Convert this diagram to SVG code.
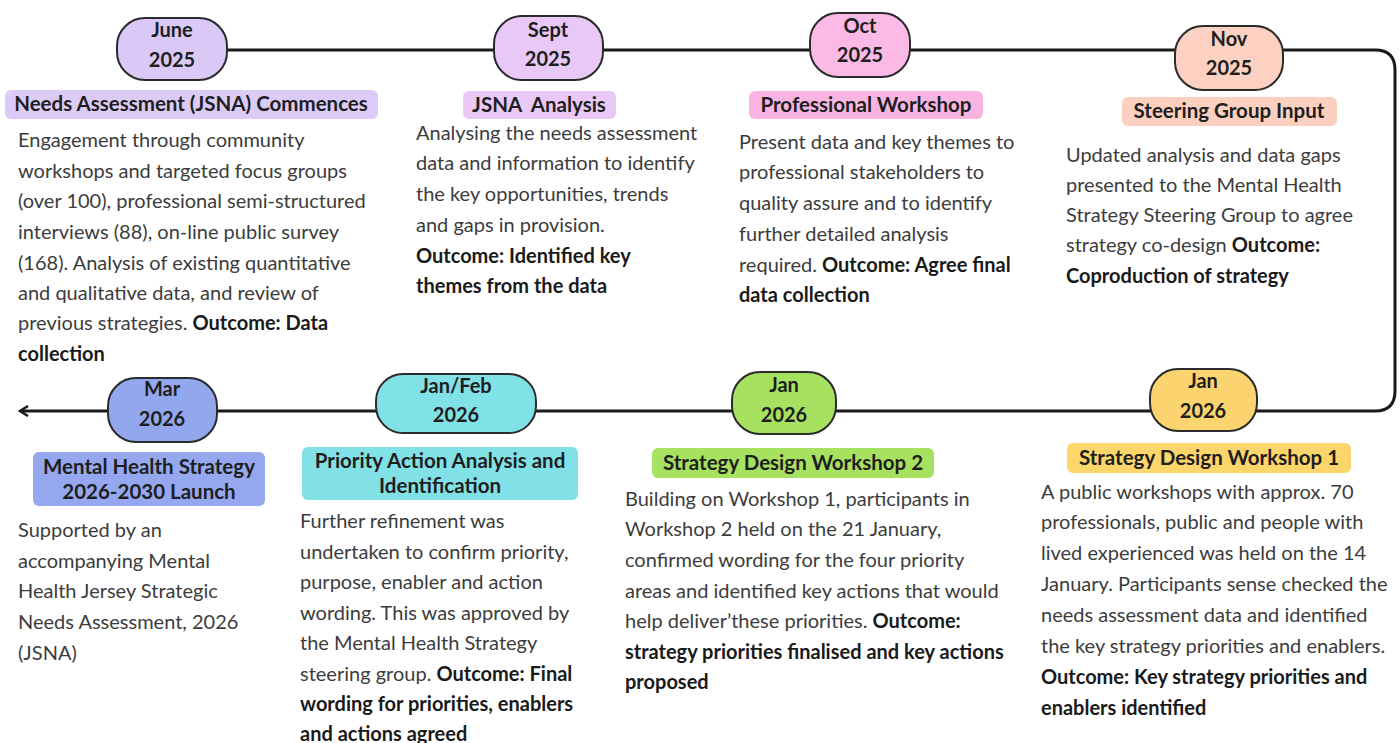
<svg xmlns="http://www.w3.org/2000/svg" width="1400" height="743" viewBox="0 0 1400 743">
<style>
.pill{stroke:#2b2b2b;stroke-width:2}
.pt{font-family:Lato,"Open Sans","Liberation Sans",sans-serif;font-weight:bold;font-size:20px;fill:#1e1e1e;text-anchor:middle}
.lbl{font-family:Lato,"Open Sans","Liberation Sans",sans-serif;font-weight:bold;font-size:20.5px;fill:#1e1e1e;text-anchor:middle}
.body{font-family:Lato,"Open Sans","Liberation Sans",sans-serif;font-size:20px;fill:#3c3c3c}
.b{font-weight:bold;fill:#1a1a1a}
.line{fill:none;stroke:#1a1a1a;stroke-width:3}
</style>
<defs>
<marker id="arr" viewBox="0 0 12 12" refX="10" refY="6" markerWidth="12" markerHeight="12" markerUnits="userSpaceOnUse" orient="auto">
<path d="M2,1 L10,6 L2,11" fill="none" stroke="#1a1a1a" stroke-width="2.5"/>
</marker>
</defs>
<rect width="1400" height="743" fill="#ffffff"/>
<g id="connectors">
<path class="line" d="M 228 50 H 1375 Q 1395 50 1395 70 V 391 Q 1395 411 1375 411 H 20" marker-end="url(#arr)"/>
</g>

<g id="june">
<rect class="pill" x="117" y="18" width="110" height="62" rx="28" fill="#dac9f6"/>
<text class="pt" x="172" y="37">June</text>
<text class="pt" x="172" y="67">2025</text>
<rect x="5" y="90" width="373" height="29" rx="6" fill="#dccbf7"/>
<text class="lbl" x="191" y="111">Needs Assessment (JSNA) Commences</text>
<text class="body">
<tspan x="18" y="147">Engagement through community</tspan>
<tspan x="18" y="178">workshops and targeted focus groups</tspan>
<tspan x="18" y="208">(over 100), professional semi-structured</tspan>
<tspan x="18" y="239">interviews (88), on-line public survey</tspan>
<tspan x="18" y="270">(168). Analysis of existing quantitative</tspan>
<tspan x="18" y="300">and qualitative data, and review of</tspan>
<tspan x="18" y="330">previous strategies. <tspan class="b">Outcome: Data</tspan></tspan>
<tspan x="18" y="361" class="b">collection</tspan>
</text>
</g>

<g id="sept">
<rect class="pill" x="494" y="16" width="109" height="64" rx="28" fill="#e7c8f6"/>
<text class="pt" x="548" y="37">Sept</text>
<text class="pt" x="548" y="66">2025</text>
<rect x="463" y="91" width="153" height="28" rx="6" fill="#eac9f7"/>
<text class="lbl" x="539" y="112" xml:space="preserve">JSNA  Analysis</text>
<text class="body">
<tspan x="416" y="140">Analysing the needs assessment</tspan>
<tspan x="416" y="170">data and information to identify</tspan>
<tspan x="416" y="201">the key opportunities, trends</tspan>
<tspan x="416" y="232">and gaps in provision.</tspan>
<tspan x="416" y="263" class="b">Outcome: Identified key</tspan>
<tspan x="416" y="293" class="b">themes from the data</tspan>
</text>
</g>

<g id="oct">
<rect class="pill" x="810" y="13" width="100" height="64" rx="28" fill="#fbb9e5"/>
<text class="pt" x="860" y="33">Oct</text>
<text class="pt" x="860" y="62">2025</text>
<rect x="749" y="91" width="234" height="28" rx="6" fill="#f9b5e2"/>
<text class="lbl" x="866" y="112">Professional Workshop</text>
<text class="body">
<tspan x="739" y="149">Present data and key themes to</tspan>
<tspan x="739" y="179">professional stakeholders to</tspan>
<tspan x="739" y="210">quality assure and to identify</tspan>
<tspan x="739" y="241">further detailed analysis</tspan>
<tspan x="739" y="272">required. <tspan class="b">Outcome: Agree final</tspan></tspan>
<tspan x="739" y="302" class="b">data collection</tspan>
</text>
</g>

<g id="nov">
<rect class="pill" x="1175" y="26" width="108" height="64" rx="28" fill="#fcd1c1"/>
<text class="pt" x="1229" y="46">Nov</text>
<text class="pt" x="1229" y="75">2025</text>
<rect x="1122" y="97" width="215" height="29" rx="6" fill="#fbd0c0"/>
<text class="lbl" x="1229" y="118">Steering Group Input</text>
<text class="body">
<tspan x="1066" y="162">Updated analysis and data gaps</tspan>
<tspan x="1066" y="192">presented to the Mental Health</tspan>
<tspan x="1066" y="222">Strategy Steering Group to agree</tspan>
<tspan x="1066" y="252">strategy co-design <tspan class="b">Outcome:</tspan></tspan>
<tspan x="1066" y="283" class="b">Coproduction of strategy</tspan>
</text>
</g>

<g id="mar">
<rect class="pill" x="108" y="378" width="109" height="64" rx="28" fill="#93a7ef"/>
<text class="pt" x="162" y="396">Mar</text>
<text class="pt" x="162" y="426">2026</text>
<rect x="33" y="452" width="232" height="54" rx="6" fill="#95a8ef"/>
<text class="lbl" x="149" y="474">Mental Health Strategy</text>
<text class="lbl" x="149" y="499">2026-2030 Launch</text>
<text class="body">
<tspan x="18" y="537">Supported by an</tspan>
<tspan x="18" y="568">accompanying Mental</tspan>
<tspan x="18" y="598">Health Jersey Strategic</tspan>
<tspan x="18" y="629">Needs Assessment, 2026</tspan>
<tspan x="18" y="660">(JSNA)</tspan>
</text>
</g>

<g id="janfeb">
<rect class="pill" x="376" y="374" width="160" height="59" rx="27" fill="#80e1e7"/>
<text class="pt" x="456" y="393">Jan/Feb</text>
<text class="pt" x="456" y="422">2026</text>
<rect x="302" y="447" width="276" height="53" rx="6" fill="#82e1e7"/>
<text class="lbl" x="440" y="468">Priority Action Analysis and</text>
<text class="lbl" x="440" y="493">Identification</text>
<text class="body">
<tspan x="300" y="528">Further refinement was</tspan>
<tspan x="300" y="559">undertaken to confirm priority,</tspan>
<tspan x="300" y="589">purpose, enabler and action</tspan>
<tspan x="300" y="620">wording. This was approved by</tspan>
<tspan x="300" y="650">the Mental Health Strategy</tspan>
<tspan x="300" y="681">steering group. <tspan class="b">Outcome: Final</tspan></tspan>
<tspan x="300" y="711" class="b">wording for priorities, enablers</tspan>
<tspan x="300" y="741" class="b">and actions agreed</tspan>
</text>
</g>

<g id="jan2">
<rect class="pill" x="732" y="372" width="104" height="62" rx="28" fill="#a6e15f"/>
<text class="pt" x="784" y="392">Jan</text>
<text class="pt" x="784" y="422">2026</text>
<rect x="652" y="448" width="282" height="30" rx="6" fill="#a7e160"/>
<text class="lbl" x="793" y="470">Strategy Design Workshop 2</text>
<text class="body">
<tspan x="625" y="506">Building on Workshop 1, participants in</tspan>
<tspan x="625" y="536">Workshop 2 held on the 21 January,</tspan>
<tspan x="625" y="567">confirmed wording for the four priority</tspan>
<tspan x="625" y="598">areas and identified key actions that would</tspan>
<tspan x="625" y="628">help deliver’these priorities. <tspan class="b">Outcome:</tspan></tspan>
<tspan x="625" y="659" class="b">strategy priorities finalised and key actions</tspan>
<tspan x="625" y="689" class="b">proposed</tspan>
</text>
</g>

<g id="jan1">
<rect class="pill" x="1150" y="369" width="107" height="62" rx="28" fill="#fcd46f"/>
<text class="pt" x="1203" y="388">Jan</text>
<text class="pt" x="1203" y="418">2026</text>
<rect x="1067" y="443" width="284" height="30" rx="6" fill="#fcd56b"/>
<text class="lbl" x="1209" y="465">Strategy Design Workshop 1</text>
<text class="body">
<tspan x="1041" y="499">A public workshops with approx. 70</tspan>
<tspan x="1041" y="529">professionals, public and people with</tspan>
<tspan x="1041" y="560">lived experienced was held on the 14</tspan>
<tspan x="1041" y="591">January. Participants sense checked the</tspan>
<tspan x="1041" y="622">needs assessment data and identified</tspan>
<tspan x="1041" y="653">the key strategy priorities and enablers.</tspan>
<tspan x="1041" y="684" class="b">Outcome: Key strategy priorities and</tspan>
<tspan x="1041" y="715" class="b">enablers identified</tspan>
</text>
</g>
</svg>
